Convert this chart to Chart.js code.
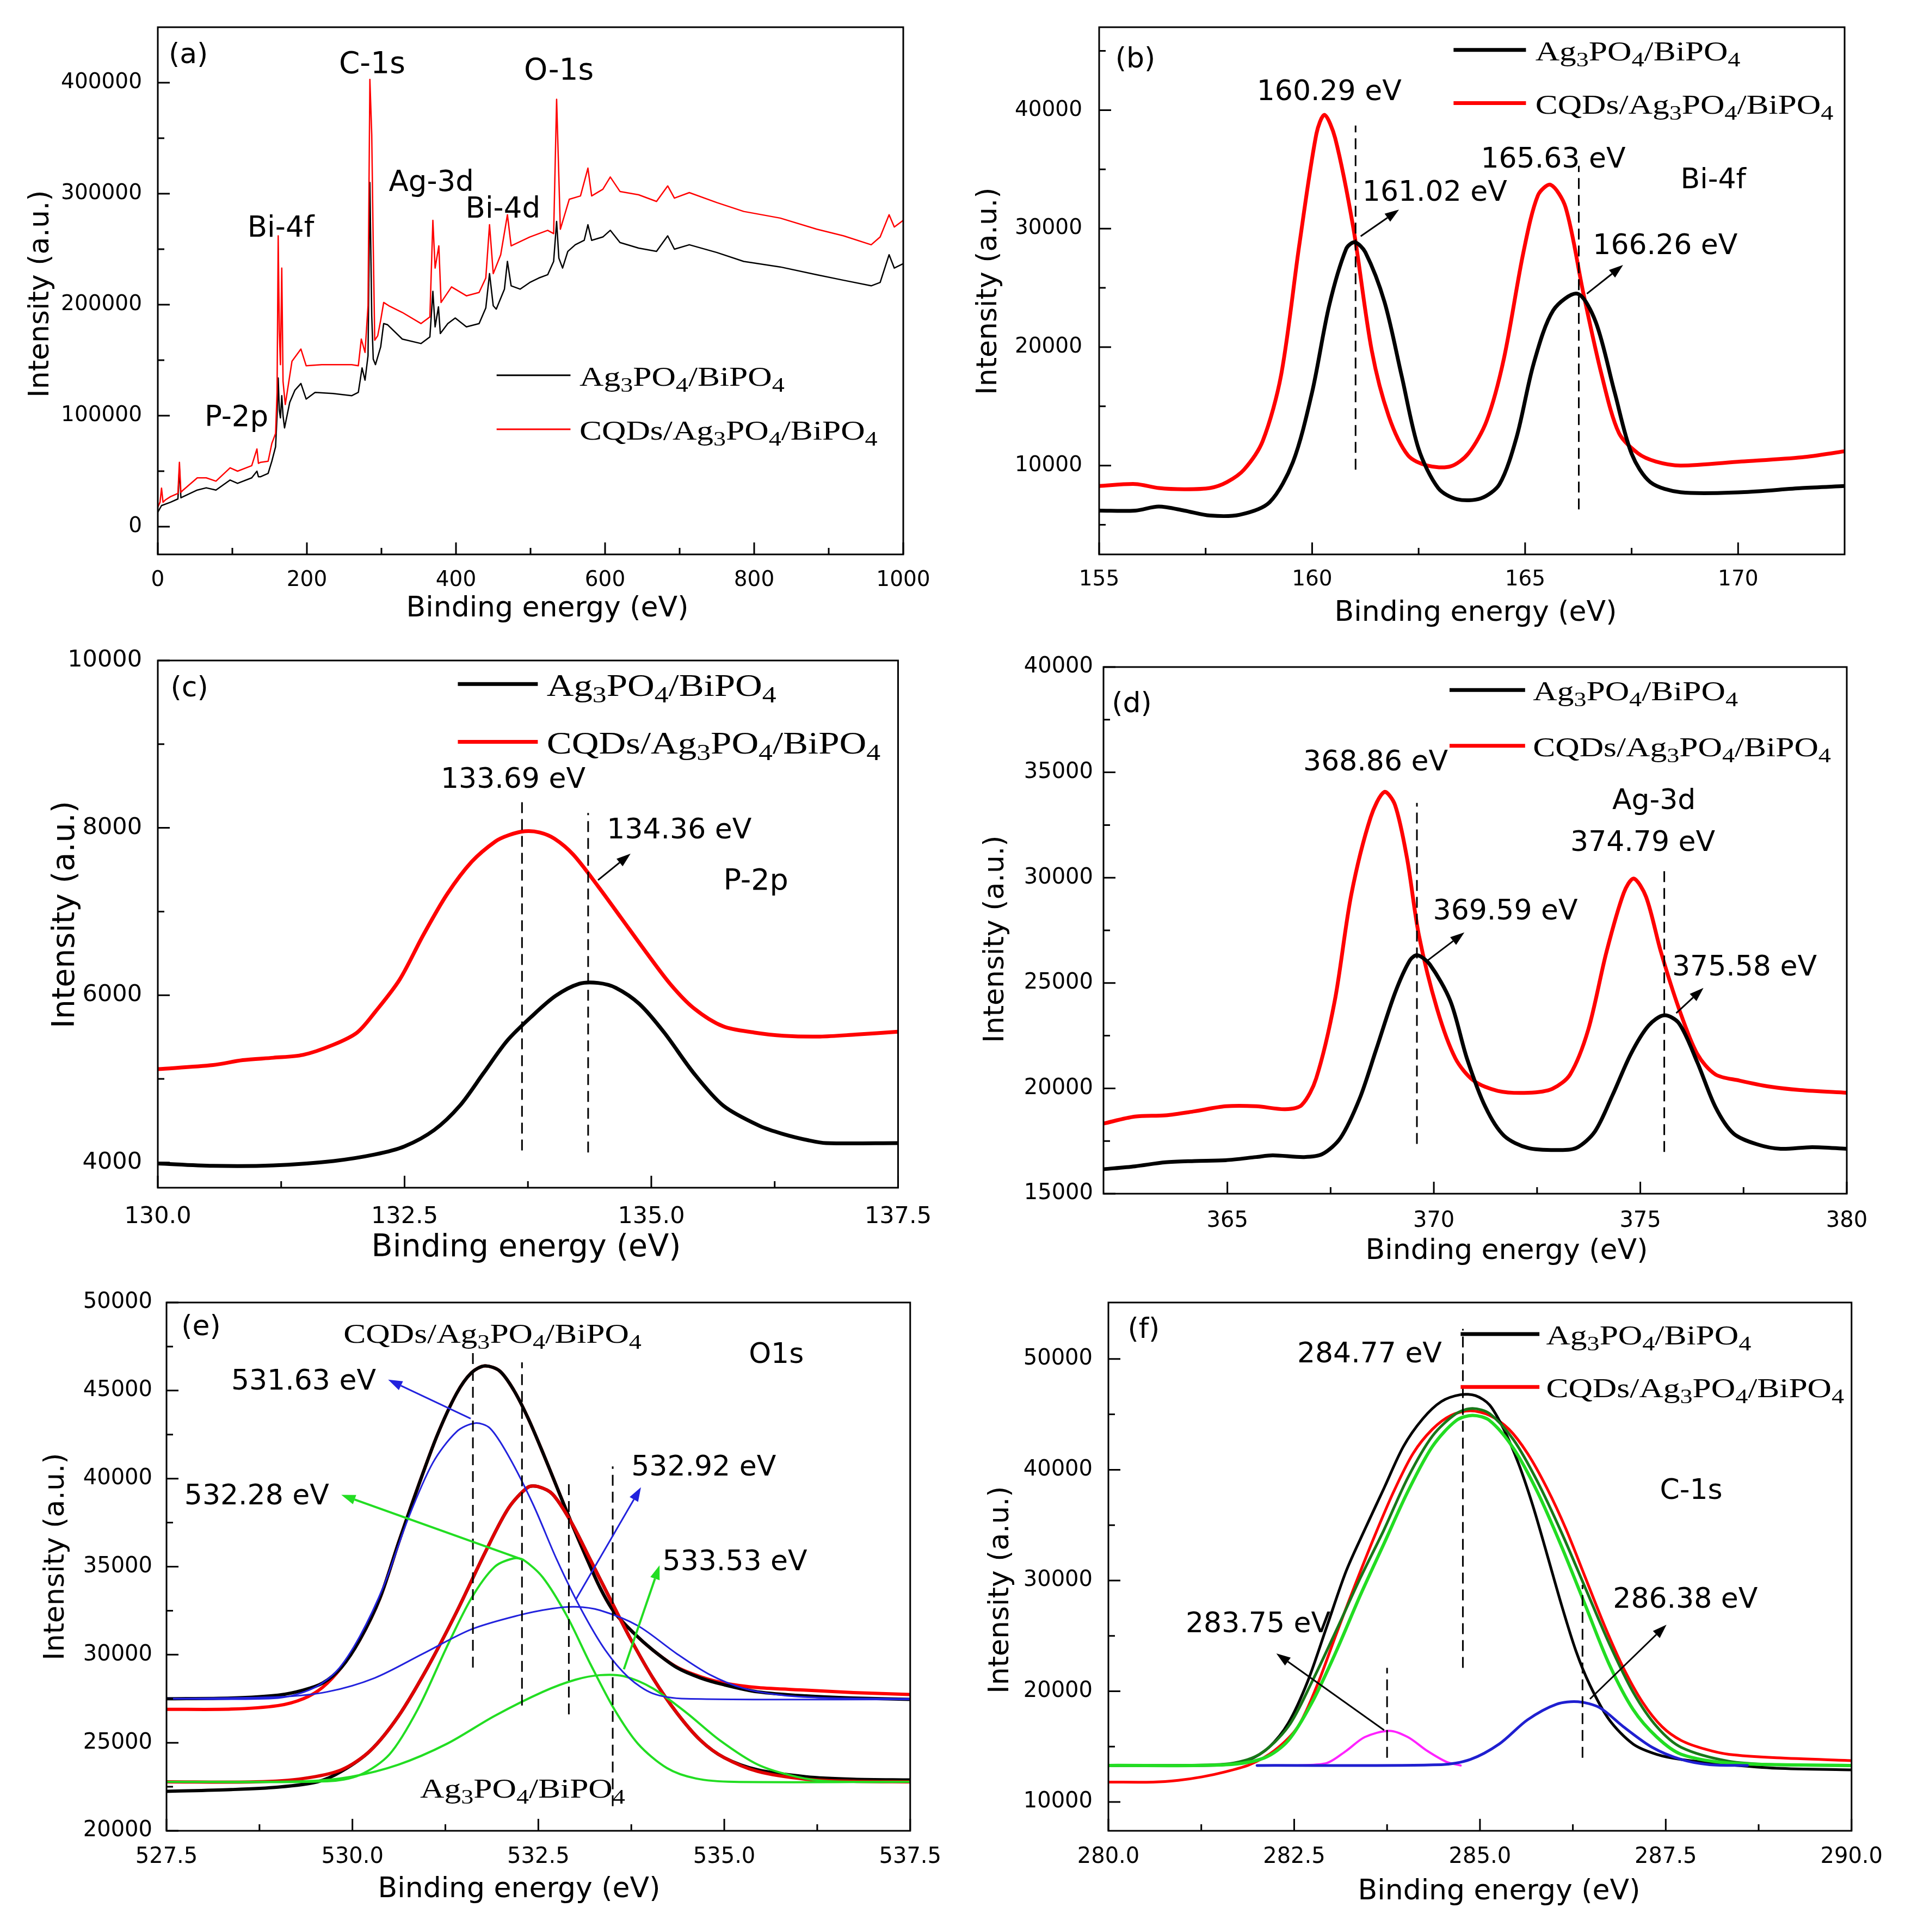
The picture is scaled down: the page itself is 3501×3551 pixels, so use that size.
<!DOCTYPE html>
<html><head><meta charset="utf-8">
<script src="https://cdn.jsdelivr.net/npm/chart.js@4.4.1/dist/chart.umd.min.js"></script>
<style>
html,body{margin:0;padding:0;background:#fff;}
body{width:3501px;height:3551px;position:relative;overflow:hidden;}
canvas{position:absolute;}
</style></head><body>
<canvas id="pa"></canvas><canvas id="pb"></canvas><canvas id="pc"></canvas>
<canvas id="pd"></canvas><canvas id="pe"></canvas><canvas id="pf"></canvas>
<script>
// ---------------- DATA ----------------
// (a) survey spectra [binding energy, intensity]
const a_black = [[0,13000],[5,19000],[17,22000],[27,25000],[29,53000],[31,26000],[34,27000],[53,33000],[65,35000],[78,33000],[97,42000],[107,39000],[126,44000],[133,50000],[135,45000],[138,45000],[148,48000],[153,59000],[158,72000],[160,100000],[161.5,134000],[163,105000],[164.5,98000],[166.3,118000],[168,100000],[170,89000],[177,112000],[184,123000],[192,129000],[199,115000],[211,121000],[235,120000],[260,118000],[269,121000],[274,143000],[278,132000],[282,154000],[284.5,310000],[287,190000],[289,151000],[292,146000],[299,162000],[303,183000],[308,182000],[328,169000],[353,165000],[365,171000],[369,212000],[372,180000],[376.5,198000],[379,174000],[389,183000],[399,188000],[414,180000],[431,183000],[440,197000],[445,228000],[450,199000],[454,196000],[465,214000],[469,239000],[474,217000],[486,214000],[499,220000],[511,224000],[523,227000],[531,239000],[535,275000],[538,242000],[543,233000],[550,248000],[560,254000],[572,258000],[577,272000],[582,258000],[597,261000],[607,267000],[620,256000],[645,251000],[669,248000],[684,262000],[693,250000],[713,254000],[750,247000],[786,239000],[835,234000],[884,227000],[920,222000],[957,217000],[969,220000],[981,245000],[988,233000],[1000,237000]];
const a_red = [[0,17600],[3,22000],[5,34700],[7,22000],[10,24000],[17,27000],[27,30000],[29,58000],[31,31000],[34,33000],[53,44000],[65,44000],[78,41000],[97,53000],[107,50000],[126,55000],[133,70000],[135,57000],[138,58000],[148,59000],[153,75000],[158,84000],[160,121000],[161.5,262000],[163,177000],[164.5,146000],[166.3,233000],[168,131000],[171,110000],[180,149000],[192,160000],[199,145000],[220,146000],[260,146000],[269,145000],[273,169000],[278,157000],[282,199000],[284.5,403000],[287,353000],[289,254000],[291,168000],[295,172000],[299,186000],[303,202000],[310,199000],[328,193000],[353,183000],[365,189000],[369,276000],[372,233000],[377,253000],[380,202000],[394,216000],[414,208000],[431,211000],[440,224000],[445,272000],[450,228000],[460,245000],[469,281000],[474,253000],[499,261000],[523,267000],[531,264000],[535,385000],[540,268000],[552,295000],[567,298000],[577,323000],[582,298000],[597,304000],[607,315000],[620,302000],[645,299000],[669,293000],[684,307000],[693,296000],[713,301000],[750,292000],[786,284000],[835,278000],[884,268000],[920,262000],[957,254000],[969,261000],[981,281000],[988,270000],[1000,276000]];
const a_xTicks = [0,200,400,600,800,1000];
const a_yTicks = [0,100000,200000,300000,400000];

// (b) Bi-4f
const b_black = [[155,6200],[155.85,6200],[156.4,6540],[157,6200],[157.6,5780],[158.3,5850],[159,6900],[159.55,10300],[160,16200],[160.4,23500],[160.8,28300],[161.0,28850],[161.25,28000],[161.7,23800],[162.1,17600],[162.5,11400],[162.96,8100],[163.4,7160],[163.96,7230],[164.4,8440],[164.8,12400],[165.2,18600],[165.66,23100],[166.23,24500],[166.66,22100],[167.1,16200],[167.5,11000],[167.94,8600],[168.65,7750],[170.07,7750],[171.5,8100],[172.5,8270]];
const b_red = [[155,8270],[155.85,8440],[156.4,8100],[157,8000],[157.6,8100],[158,8600],[158.4,9650],[158.84,12070],[159.27,17600],[159.7,28650],[160.1,38000],[160.29,39600],[160.54,37650],[160.97,30000],[161.4,19700],[161.8,14150],[162.25,10860],[162.7,10000],[163.25,9930],[163.67,11030],[164.1,13800],[164.5,19000],[164.96,28000],[165.3,32800],[165.6,33700],[165.95,31800],[166.37,24500],[166.8,17600],[167.2,12760],[167.65,11030],[168.07,10340],[168.65,10000],[170.07,10340],[171.5,10700],[172.5,11200]];
const b_xTicks = [155,160,165,170];
const b_yTicks = [10000,20000,30000,40000];

// (c) P-2p
const c_black = [[130.0,3990],[130.56,3961],[131.17,3966],[131.78,4019],[132.2,4097],[132.5,4194],[132.8,4389],[133.06,4680],[133.3,5069],[133.54,5457],[133.79,5749],[134.03,5992],[134.27,6137],[134.46,6147],[134.64,6089],[134.88,5895],[135.13,5555],[135.43,5069],[135.73,4680],[136.1,4437],[136.34,4340],[136.59,4267],[136.77,4233],[137.5,4233]];
const c_red = [[130.0,5117],[130.56,5166],[130.86,5224],[131.17,5253],[131.47,5287],[131.78,5409],[132.02,5555],[132.2,5797],[132.45,6186],[132.69,6720],[132.93,7206],[133.18,7595],[133.42,7838],[133.56,7915],[133.72,7960],[133.87,7945],[134.02,7870],[134.21,7680],[134.46,7303],[134.7,6915],[134.94,6526],[135.19,6137],[135.43,5846],[135.73,5627],[136.04,5555],[136.34,5516],[136.71,5506],[137.07,5530],[137.5,5564]];
const c_xTicks = [130,132.5,135,137.5];
const c_yTicks = [4000,6000,8000,10000];

// (d) Ag-3d
const d_black = [[362.0,16163],[362.76,16300],[363.5,16490],[364.2,16550],[364.96,16590],[365.7,16740],[366.1,16820],[366.86,16740],[367.3,16880],[367.74,17650],[368.2,19500],[368.6,21820],[369.06,24530],[369.42,26080],[369.6,26320],[369.9,25890],[370.4,24150],[370.8,21430],[371.25,19110],[371.7,17750],[372.28,17170],[373.0,17070],[373.45,17170],[373.9,17950],[374.33,19690],[374.77,21630],[375.2,22980],[375.58,23470],[375.94,23080],[376.38,21240],[376.82,19110],[377.26,17850],[377.85,17330],[378.4,17130],[379.16,17210],[380.0,17130]];
const d_red = [[362.0,18330],[362.76,18660],[363.5,18720],[364.2,18910],[364.96,19150],[365.7,19150],[366.4,19010],[366.8,19210],[367.15,20470],[367.6,24150],[368.0,29190],[368.47,32870],[368.8,34070],[369.06,33450],[369.35,30930],[369.64,27250],[370.08,23760],[370.52,21430],[370.96,20370],[371.55,19880],[372.28,19790],[372.87,19980],[373.3,20660],[373.74,22790],[374.18,26470],[374.6,29280],[374.84,29960],[375.14,29090],[375.5,26470],[375.94,23760],[376.38,21630],[376.82,20660],[377.4,20370],[378.14,20080],[378.87,19920],[380.0,19790]];
const d_xTicks = [365,370,375,380];
const d_yTicks = [15000,20000,25000,30000,35000,40000];

// (e) O1s
const e_cqd_raw = [[527.5,26900],[528.37,26910],[529.0,27110],[529.34,27500],[529.6,28150],[529.85,29270],[530.1,30850],[530.37,33210],[530.62,36360],[530.88,39510],[531.14,42460],[531.4,44830],[531.6,46010],[531.78,46400],[531.98,46110],[532.17,45020],[532.36,43450],[532.56,41480],[532.75,39510],[532.94,37540],[533.14,35570],[533.33,33800],[533.52,32420],[533.78,31240],[534.04,30260],[534.36,29300],[534.68,28750],[535.0,28390],[535.45,28130],[536.1,27990],[536.74,27850],[537.5,27740]];
const e_cqd_fit = [[527.5,27500],[528.37,27540],[529.0,27700],[529.34,27990],[529.6,28390],[529.85,29270],[530.1,30850],[530.37,33210],[530.62,36360],[530.88,39510],[531.14,42460],[531.4,44830],[531.6,46010],[531.78,46400],[531.98,46110],[532.17,45020],[532.36,43450],[532.56,41480],[532.75,39510],[532.94,37540],[533.14,35570],[533.33,33800],[533.52,32420],[533.78,31240],[534.04,30260],[534.36,29270],[534.68,28680],[535.0,28290],[535.45,27890],[536.1,27660],[536.74,27540],[537.5,27460]];
const e_ag_raw = [[527.5,22240],[528.37,22340],[529.0,22480],[529.53,22780],[529.85,23370],[530.24,24550],[530.62,26520],[531.01,29270],[531.4,32420],[531.78,35770],[532.1,38330],[532.36,39510],[532.49,39550],[532.69,39120],[532.94,37540],[533.2,35380],[533.46,33210],[533.72,31050],[534.04,28680],[534.36,26710],[534.68,25140],[535.0,24150],[535.45,23460],[536.1,23070],[536.74,22930],[537.5,22890]];
const e_ag_fit = [[527.5,22780],[528.7,22780],[529.34,22970],[529.85,23460],[530.24,24550],[530.62,26520],[531.01,29270],[531.4,32420],[531.78,35770],[532.1,38330],[532.36,39510],[532.49,39550],[532.69,39120],[532.94,37540],[533.2,35380],[533.46,33210],[533.72,31050],[534.04,28680],[534.36,26710],[534.68,25140],[535.0,24150],[535.45,23370],[536.1,22930],[536.74,22810],[537.5,22780]];
const e_blue1 = [[527.5,27500],[529.0,27540],[529.47,28090],[529.79,29080],[530.1,31050],[530.43,34000],[530.75,37740],[531.08,40890],[531.4,42660],[531.65,43150],[531.85,42860],[532.1,41280],[532.43,38530],[532.75,35380],[533.07,32620],[533.4,30260],[533.72,28680],[534.04,27800],[534.49,27500],[537.5,27460]];
const e_blue2 = [[527.5,27500],[529.0,27600],[529.66,27890],[530.3,28680],[530.95,30060],[531.6,31440],[532.23,32230],[532.69,32620],[533.0,32720],[533.33,32520],[533.84,31640],[534.36,30060],[534.8,28880],[535.26,28090],[535.78,27700],[536.42,27540],[537.5,27500]];
const e_green1 = [[527.5,22780],[529.66,22810],[530.1,23170],[530.5,24350],[530.88,26910],[531.27,30450],[531.6,33210],[531.91,34980],[532.17,35470],[532.3,35380],[532.56,34390],[532.88,32230],[533.2,29470],[533.52,26910],[533.84,24940],[534.23,23560],[534.62,22970],[535.13,22780],[537.5,22780]];
const e_green2 = [[527.5,22780],[529.34,22810],[529.98,23070],[530.62,23760],[531.27,24940],[531.91,26520],[532.56,27890],[533.0,28580],[533.33,28840],[533.65,28780],[534.04,28090],[534.49,26710],[534.94,25140],[535.45,23760],[535.97,23070],[536.42,22810],[537.5,22780]];
const e_xTicks = [527.5,530,532.5,535,537.5];
const e_yTicks = [20000,25000,30000,35000,40000,45000,50000];

// (f) C-1s
const f_black = [[280.0,13300],[280.94,13300],[281.58,13370],[281.9,13840],[282.16,14930],[282.42,17110],[282.68,20860],[282.94,25860],[283.2,30860],[283.45,34600],[283.71,38350],[283.97,42100],[284.23,44600],[284.48,46160],[284.74,46780],[284.94,46690],[285.13,45850],[285.32,43660],[285.52,40540],[285.71,36790],[285.9,32420],[286.1,27730],[286.29,23670],[286.48,20550],[286.74,17420],[287.06,15240],[287.38,14300],[287.71,13840],[288.35,13370],[288.99,13050],[290.0,12900]];
const f_red = [[280.0,11800],[280.6,11800],[280.94,11960],[281.26,12270],[281.58,12740],[281.9,13370],[282.23,14620],[282.55,16800],[282.81,20550],[283.07,25230],[283.32,29610],[283.58,33980],[283.84,38040],[284.1,41470],[284.36,43660],[284.61,44910],[284.87,45320],[285.13,44910],[285.39,43660],[285.64,41470],[285.9,38350],[286.16,34600],[286.42,30230],[286.68,25860],[286.93,22110],[287.19,18990],[287.45,16800],[287.71,15550],[288.03,14770],[288.35,14300],[288.99,13990],[290.0,13740]];
const f_envelope = [[280.0,13300],[281.58,13430],[282.03,14300],[282.42,16800],[282.74,20860],[283.07,25550],[283.39,30230],[283.71,34600],[284.03,39290],[284.36,43040],[284.68,45070],[284.9,45530],[285.13,45070],[285.45,42720],[285.77,38980],[286.1,34290],[286.42,29290],[286.74,24300],[287.06,19930],[287.38,16800],[287.71,14930],[288.35,13680],[288.99,13370],[290.0,13300]];
const f_comp_main = [[280.0,13300],[281.58,13370],[282.1,13990],[282.42,15550],[282.74,18990],[283.07,23670],[283.39,28670],[283.71,33350],[284.03,38040],[284.36,42100],[284.68,44440],[284.9,44910],[285.13,44440],[285.45,41940],[285.77,38040],[286.1,33040],[286.42,27730],[286.74,22420],[287.06,18360],[287.38,15860],[287.71,14300],[288.35,13520],[290.0,13300]];
const f_comp_low = [[282.55,13300],[282.94,13520],[283.2,14620],[283.45,15860],[283.78,16430],[284.03,15860],[284.29,14620],[284.55,13620],[284.74,13300]];
const f_comp_high = [[282.0,13300],[284.48,13370],[284.87,13840],[285.26,15240],[285.64,17420],[286.03,18830],[286.32,19050],[286.61,18520],[286.93,16800],[287.32,14930],[287.71,13840],[288.09,13370],[288.6,13300]];
const f_xTicks = [280,282.5,285,287.5,290];
const f_yTicks = [10000,20000,30000,40000,50000];

const LEG1 = 'Ag_3PO_4/BiPO_4';
const LEG2 = 'CQDs/Ag_3PO_4/BiPO_4';

// ---------------- DRAWING ----------------
const SANS = '"DejaVu Sans", Verdana, sans-serif';
const SERIF = '"Liberation Serif", "Times New Roman", serif';
const BLUE = '#2222dd', GREEN = '#22dd22';

function richText(ctx, str, x, y, size, align, stretch) {
  const parts = [];
  for (let i = 0; i < str.length; i++) {
    if (str[i] === '_' && i + 1 < str.length) { parts.push({t: str[i+1], sub: true}); i++; }
    else if (parts.length && !parts[parts.length-1].sub) parts[parts.length-1].t += str[i];
    else parts.push({t: str[i], sub: false});
  }
  const sub = size * 0.75;
  ctx.save();
  ctx.translate(x, y); ctx.scale(stretch, 1);
  ctx.textBaseline = 'alphabetic'; ctx.textAlign = 'left'; ctx.fillStyle = '#000';
  let total = 0;
  parts.forEach(p => { ctx.font = (p.sub ? sub : size) + 'px ' + SERIF; p.w = ctx.measureText(p.t).width; total += p.w; });
  let cx = align === 'center' ? -total / 2 : 0;
  parts.forEach(p => { ctx.font = (p.sub ? sub : size) + 'px ' + SERIF; ctx.fillText(p.t, cx, p.sub ? size * 0.22 : 0); cx += p.w; });
  ctx.restore();
}

function arrow(ctx, x1, y1, x2, y2, color, lw) {
  ctx.save(); ctx.strokeStyle = color; ctx.fillStyle = color; ctx.lineWidth = lw; ctx.setLineDash([]);
  const ang = Math.atan2(y2 - y1, x2 - x1), hl = 26, hw = 9;
  const bx = x2 - hl * Math.cos(ang), by = y2 - hl * Math.sin(ang);
  ctx.beginPath(); ctx.moveTo(x1, y1); ctx.lineTo(bx, by); ctx.stroke();
  ctx.beginPath(); ctx.moveTo(x2, y2);
  ctx.lineTo(bx + hw * Math.sin(ang), by - hw * Math.cos(ang));
  ctx.lineTo(bx - hw * Math.sin(ang), by + hw * Math.cos(ang));
  ctx.closePath(); ctx.fill(); ctx.restore();
}

function halfSteps(ticks) { const r = []; for (let i = 0; i < ticks.length - 1; i++) r.push((ticks[i] + ticks[i+1]) / 2); return r; }

function makePanel(P) {
  const cl = Math.round(P.yTX - 45), ct = P.T - 60, cr = P.R + 80, cb = Math.round(P.xTY + 45);
  const W = cr - cl, H = cb - ct;
  const cv = document.getElementById(P.id);
  cv.width = W; cv.height = H;
  cv.style.left = cl + 'px'; cv.style.top = ct + 'px'; cv.style.width = W + 'px'; cv.style.height = H + 'px';
  const yW = P.L - cl, xH = cb - P.B;
  const n = P.series.length;
  const datasets = P.series.map((s, i) => ({
    data: s.pts.map(p => ({x: p[0], y: p[1]})),
    borderColor: s.color, borderWidth: s.lw, pointRadius: 0, fill: false,
    cubicInterpolationMode: 'default', tension: P.smooth ? 0.3 : 0, order: n - i,
    borderJoinStyle: 'round', borderCapStyle: 'round'
  }));
  const framePlugin = {
    id: 'frame' + P.id,
    afterDatasetsDraw(chart) {
      const ctx = chart.ctx, a = chart.chartArea, xs = chart.scales.x, ys = chart.scales.y;
      ctx.save();
      ctx.strokeStyle = '#000'; ctx.lineWidth = 3; ctx.setLineDash([]);
      ctx.strokeRect(a.left, a.top, a.right - a.left, a.bottom - a.top);
      ctx.beginPath();
      const tk = (v, len, isX) => {
        if (isX) { const px = xs.getPixelForValue(v); ctx.moveTo(px, a.bottom); ctx.lineTo(px, a.bottom - len); }
        else { const py = ys.getPixelForValue(v); ctx.moveTo(a.left, py); ctx.lineTo(a.left + len, py); }
      };
      P.xTicks.forEach(v => tk(v, 22, true)); halfSteps(P.xTicks).forEach(v => tk(v, 12, true));
      P.yTicks.forEach(v => tk(v, 22, false)); P.yMinor.forEach(v => tk(v, 12, false));
      ctx.stroke();
      // annotations
      const X = v => xs.getPixelForValue(v), Y = v => ys.getPixelForValue(v);
      P.ann.forEach(o => {
        if (o.k === 'd') {
          ctx.save(); ctx.strokeStyle = '#000'; ctx.lineWidth = 3; ctx.setLineDash([20, 11]);
          ctx.beginPath(); ctx.moveTo(X(o.x), Y(o.y1)); ctx.lineTo(X(o.x), Y(o.y2)); ctx.stroke(); ctx.restore();
        } else if (o.k === 'ar') {
          arrow(ctx, X(o.x1), Y(o.y1), X(o.x2), Y(o.y2), o.c || '#000', o.lw || 3);
        } else if (o.k === 't') {
          ctx.save(); ctx.fillStyle = '#000'; ctx.font = (o.size || 52) + 'px ' + SANS;
          ctx.textBaseline = 'middle'; ctx.textAlign = o.a || 'left';
          ctx.fillText(o.s, X(o.x), Y(o.y)); ctx.restore();
        } else if (o.k === 'st') {
          richText(ctx, o.s, X(o.x), Y(o.y), o.size || 50, o.a || 'left', 1.23);
        } else if (o.k === 'lg') {
          ctx.save(); ctx.strokeStyle = o.c; ctx.lineWidth = o.lw; ctx.setLineDash([]);
          ctx.beginPath(); ctx.moveTo(X(o.x1), Y(o.y)); ctx.lineTo(X(o.x2), Y(o.y)); ctx.stroke(); ctx.restore();
          const sz = o.size || 50;
          richText(ctx, o.s, X(o.tx), Y(o.y) + sz * 0.38, sz, 'left', 1.23);
        }
      });
      // axis titles
      ctx.fillStyle = '#000'; ctx.font = P.ts + 'px ' + SANS; ctx.textAlign = 'center'; ctx.textBaseline = 'middle';
      ctx.fillText('Binding energy (eV)', P.xTX - cl, P.xTY - ct);
      ctx.translate(P.yTX - cl, P.yTY - ct); ctx.rotate(-Math.PI / 2);
      ctx.fillText('Intensity (a.u.)', 0, 0);
      ctx.restore();
    }
  };
  new Chart(cv, {
    type: 'line',
    data: {datasets},
    options: {
      responsive: false, animation: false, devicePixelRatio: 1, events: [],
      layout: {padding: {left: 0, top: 60, right: 80, bottom: 0}},
      plugins: {legend: {display: false}, tooltip: {enabled: false}, title: {display: false}},
      scales: {
        x: {type: 'linear', min: P.xMin, max: P.xMax, bounds: 'data',
            grid: {display: false, drawTicks: false}, border: {display: false},
            ticks: {font: {family: SANS, size: P.ks}, color: '#000', padding: P.xPad, maxRotation: 0, minRotation: 0, autoSkip: false, callback: v => P.xFmt(v)},
            afterBuildTicks: s => { s.ticks = P.xTicks.map(v => ({value: v})); },
            afterFit: s => { s.height = xH; }},
        y: {type: 'linear', min: P.yMin, max: P.yMax, bounds: 'data',
            grid: {display: false, drawTicks: false}, border: {display: false},
            ticks: {font: {family: SANS, size: P.ks}, color: '#000', padding: P.yPad, autoSkip: false, callback: v => String(v)},
            afterBuildTicks: s => { s.ticks = P.yTicks.map(v => ({value: v})); },
            afterFit: s => { s.width = yW; }}
      }
    },
    plugins: [framePlugin]
  });
}

const int = v => String(v), one = v => v.toFixed(1);

const PANELS = [
  {id: 'pa', L: 290, T: 50, R: 1660, B: 1019, yTX: 75, yTY: 540, xTX: 1006, xTY: 1119, ts: 52, ks: 39, yPad: 29, xPad: 24,
   xMin: 0, xMax: 1000, yMin: -25000, yMax: 450000, xTicks: a_xTicks, yTicks: a_yTicks, yMinor: [50000,150000,250000,350000], xFmt: int, smooth: false,
   series: [{pts: a_black, color: '#000', lw: 2.5}, {pts: a_red, color: '#ff0000', lw: 2.5}],
   ann: [
     {k: 't', x: 41, y: 424500, s: '(a)', a: 'center'},
     {k: 't', x: 287.5, y: 416000, s: 'C-1s', a: 'center', size: 55},
     {k: 't', x: 538, y: 410000, s: 'O-1s', a: 'center', size: 55},
     {k: 't', x: 367, y: 309000, s: 'Ag-3d', a: 'center', size: 53},
     {k: 't', x: 463, y: 285000, s: 'Bi-4d', a: 'center', size: 53},
     {k: 't', x: 165, y: 268000, s: 'Bi-4f', a: 'center', size: 53},
     {k: 't', x: 105.5, y: 97500, s: 'P-2p', a: 'center', size: 53},
     {k: 'lg', x1: 454.5, x2: 553.6, y: 136400, c: '#000', lw: 3, s: LEG1, tx: 565.7},
     {k: 'lg', x1: 454.5, x2: 553.6, y: 87750, c: '#ff0000', lw: 3, s: LEG2, tx: 565.7}
   ]},
  {id: 'pb', L: 2020, T: 50, R: 3390, B: 1019, yTX: 1817, yTY: 535, xTX: 2712, xTY: 1127, ts: 52, ks: 39, yPad: 31, xPad: 23,
   xMin: 155, xMax: 172.5, yMin: 2500, yMax: 47000, xTicks: b_xTicks, yTicks: b_yTicks, yMinor: [5000,15000,25000,35000,45000], xFmt: int, smooth: true,
   series: [{pts: b_red, color: '#ff0000', lw: 7}, {pts: b_black, color: '#000', lw: 7}],
   ann: [
     {k: 'd', x: 161.02, y1: 9650, y2: 38700},
     {k: 'd', x: 166.26, y1: 6300, y2: 35300},
     {k: 'ar', x1: 161.14, y1: 29350, x2: 162.04, y2: 31600},
     {k: 'ar', x1: 166.45, y1: 24500, x2: 167.3, y2: 26930},
     {k: 't', x: 155.85, y: 44220, s: '(b)', a: 'center'},
     {k: 't', x: 160.4, y: 41450, s: '160.29 eV', a: 'center'},
     {k: 't', x: 161.18, y: 32980, s: '161.02 eV'},
     {k: 't', x: 163.96, y: 35750, s: '165.63 eV'},
     {k: 't', x: 166.59, y: 28490, s: '166.26 eV'},
     {k: 't', x: 168.65, y: 34020, s: 'Bi-4f'},
     {k: 'lg', x1: 163.32, x2: 165.02, y: 45080, c: '#000', lw: 7, s: LEG1, tx: 165.24},
     {k: 'lg', x1: 163.32, x2: 165.02, y: 40590, c: '#ff0000', lw: 7, s: LEG2, tx: 165.24}
   ]},
  {id: 'pc', L: 290, T: 1214, R: 1660, B: 2183, yTX: 121, yTY: 1681, xTX: 967, xTY: 2294, ts: 57, ks: 43, yPad: 29, xPad: 28,
   xMin: 130, xMax: 137.5, yMin: 3700, yMax: 10000, xTicks: c_xTicks, yTicks: c_yTicks, yMinor: [5000,7000,9000], xFmt: one, smooth: true,
   series: [{pts: c_red, color: '#ff0000', lw: 7}, {pts: c_black, color: '#000', lw: 7}],
   ann: [
     {k: 'd', x: 133.69, y1: 4146, y2: 8348},
     {k: 'd', x: 134.36, y1: 4121, y2: 8178},
     {k: 'ar', x1: 134.46, y1: 7376, x2: 134.79, y2: 7692},
     {k: 't', x: 130.13, y: 9659, s: '(c)'},
     {k: 't', x: 133.6, y: 8567, s: '133.69 eV', a: 'center'},
     {k: 't', x: 134.55, y: 7959, s: '134.36 eV'},
     {k: 't', x: 135.73, y: 7352, s: 'P-2p', size: 54},
     {k: 'lg', x1: 133.04, x2: 133.85, y: 9718, c: '#000', lw: 7, s: LEG1, tx: 133.94, size: 56},
     {k: 'lg', x1: 133.04, x2: 133.85, y: 9028, c: '#ff0000', lw: 7, s: LEG2, tx: 133.94, size: 56}
   ]},
  {id: 'pd', L: 2028, T: 1226, R: 3394, B: 2194, yTX: 1830, yTY: 1726, xTX: 2769, xTY: 2300, ts: 52, ks: 40, yPad: 19, xPad: 27,
   xMin: 362, xMax: 380, yMin: 15000, yMax: 40000, xTicks: d_xTicks, yTicks: d_yTicks, yMinor: [17500,22500,27500,32500,37500], xFmt: int, smooth: true,
   series: [{pts: d_red, color: '#ff0000', lw: 7}, {pts: d_black, color: '#000', lw: 7}],
   ann: [
     {k: 'd', x: 369.59, y1: 17360, y2: 33550},
     {k: 'd', x: 375.58, y1: 16980, y2: 30450},
     {k: 'ar', x1: 369.86, y1: 26090, x2: 370.74, y2: 27400},
     {k: 'ar', x1: 375.87, y1: 23570, x2: 376.53, y2: 24770},
     {k: 't', x: 362.2, y: 38200, s: '(d)'},
     {k: 't', x: 368.59, y: 35430, s: '368.86 eV', a: 'center'},
     {k: 't', x: 375.06, y: 31610, s: '374.79 eV', a: 'center'},
     {k: 't', x: 375.33, y: 33600, s: 'Ag-3d', a: 'center'},
     {k: 't', x: 369.98, y: 28370, s: '369.59 eV'},
     {k: 't', x: 375.77, y: 25700, s: '375.58 eV'},
     {k: 'lg', x1: 370.38, x2: 372.21, y: 38910, c: '#000', lw: 7, s: LEG1, tx: 372.4},
     {k: 'lg', x1: 370.38, x2: 372.21, y: 36260, c: '#ff0000', lw: 7, s: LEG2, tx: 372.4}
   ]},
  {id: 'pe', L: 306, T: 2394, R: 1675, B: 3365, yTX: 103, yTY: 2861, xTX: 954, xTY: 3473, ts: 52, ks: 40, yPad: 26, xPad: 25,
   xMin: 527.5, xMax: 537.5, yMin: 20000, yMax: 50000, xTicks: e_xTicks, yTicks: e_yTicks, yMinor: [22500,27500,32500,37500,42500,47500], xFmt: one, smooth: true,
   series: [{pts: e_cqd_raw, color: '#ff0000', lw: 6}, {pts: e_cqd_fit, color: '#000', lw: 6},
            {pts: e_ag_raw, color: '#000', lw: 6}, {pts: e_ag_fit, color: '#e00000', lw: 6},
            {pts: e_green2, color: GREEN, lw: 4}, {pts: e_green1, color: GREEN, lw: 4},
            {pts: e_blue2, color: BLUE, lw: 3}, {pts: e_blue1, color: BLUE, lw: 3}],
   ann: [
     {k: 'd', x: 531.62, y1: 29270, y2: 47290},
     {k: 'd', x: 532.28, y1: 27110, y2: 46600},
     {k: 'd', x: 532.91, y1: 26610, y2: 39810},
     {k: 'd', x: 533.5, y1: 21400, y2: 40690},
     {k: 'ar', x1: 531.59, y1: 43410, x2: 530.48, y2: 45620, c: BLUE, lw: 3},
     {k: 'ar', x1: 532.3, y1: 35380, x2: 529.85, y2: 39080, c: GREEN, lw: 4},
     {k: 'ar', x1: 533.0, y1: 33110, x2: 533.88, y2: 39510, c: BLUE, lw: 3},
     {k: 'ar', x1: 533.65, y1: 29170, x2: 534.13, y2: 35080, c: GREEN, lw: 4},
     {k: 't', x: 527.7, y: 48570, s: '(e)'},
     {k: 't', x: 528.37, y: 45460, s: '531.63 eV'},
     {k: 't', x: 527.74, y: 38960, s: '532.28 eV'},
     {k: 't', x: 533.75, y: 40590, s: '532.92 eV'},
     {k: 't', x: 534.17, y: 35220, s: '533.53 eV'},
     {k: 't', x: 535.33, y: 46990, s: 'O1s'},
     {k: 'st', x: 529.88, y: 47700, s: LEG2},
     {k: 'st', x: 530.91, y: 21890, s: LEG1}
   ]},
  {id: 'pf', L: 2037, T: 2394, R: 3405, B: 3365, yTX: 1839, yTY: 2922, xTX: 2755, xTY: 3477, ts: 52, ks: 40, yPad: 29, xPad: 25,
   xMin: 280, xMax: 290, yMin: 7400, yMax: 55100, xTicks: f_xTicks, yTicks: f_yTicks, yMinor: [15000,25000,35000,45000], xFmt: one, smooth: true,
   series: [{pts: f_red, color: '#ff0000', lw: 5}, {pts: f_black, color: '#000', lw: 5},
            {pts: f_envelope, color: '#187818', lw: 5}, {pts: f_comp_main, color: GREEN, lw: 6},
            {pts: f_comp_low, color: '#ff22ff', lw: 4}, {pts: f_comp_high, color: '#1f1fd0', lw: 5}],
   ann: [
     {k: 'd', x: 284.77, y1: 22110, y2: 52720},
     {k: 'd', x: 283.75, y1: 13990, y2: 22110},
     {k: 'd', x: 286.38, y1: 13990, y2: 29610},
     {k: 'ar', x1: 283.71, y1: 16490, x2: 282.26, y2: 23420},
     {k: 'ar', x1: 286.48, y1: 19300, x2: 287.51, y2: 26010},
     {k: 't', x: 280.26, y: 52560, s: '(f)'},
     {k: 't', x: 282.54, y: 50370, s: '284.77 eV'},
     {k: 't', x: 281.04, y: 26010, s: '283.75 eV'},
     {k: 't', x: 286.79, y: 28200, s: '286.38 eV'},
     {k: 't', x: 287.42, y: 38040, s: 'C-1s'},
     {k: 'lg', x1: 284.74, x2: 285.8, y: 52250, c: '#000', lw: 7, s: LEG1, tx: 285.89},
     {k: 'lg', x1: 284.74, x2: 285.8, y: 47470, c: '#ff0000', lw: 7, s: LEG2, tx: 285.89}
   ]}
];

PANELS.forEach(makePanel);
</script>
</body></html>
